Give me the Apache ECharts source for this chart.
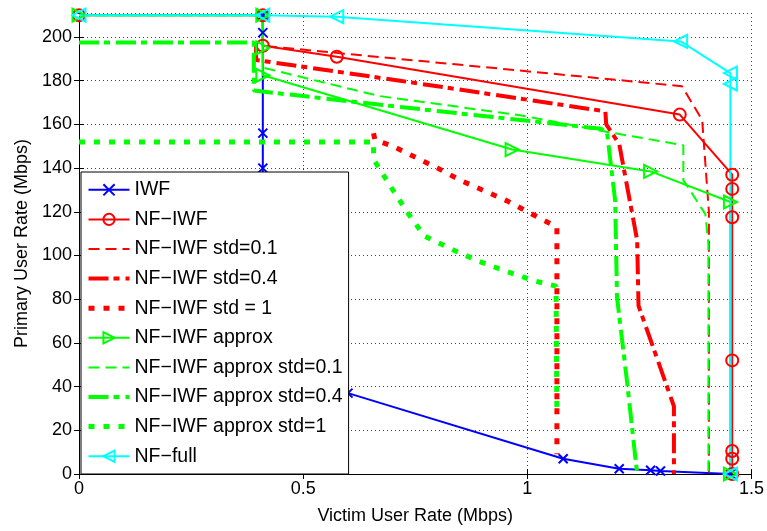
<!DOCTYPE html>
<html>
<head>
<meta charset="utf-8">
<script src="https://cdn.jsdelivr.net/npm/echarts@6/dist/echarts.min.js"></script>
<style>
  html, body { margin: 0; padding: 0; background: #fff; }
  #chartmain { width: 767px; height: 531px; }
</style>
</head>
<body>
<div id="chartmain"></div>
<script>
// data: [victim rate (Mbps), primary rate (Mbps)]
var iwf = [[0.41, 210], [0.41, 202], [0.41, 156], [0.41, 140], [0.41, 49], [0.6, 37], [1.08, 7], [1.205, 2.4], [1.275, 1.7], [1.297, 1.4], [1.453, 0]];
var nfIwf = [[0, 210], [0.41, 210], [0.41, 196], [0.575, 191], [1.34, 164.5], [1.457, 137], [1.457, 130.5], [1.457, 117.5], [1.457, 52], [1.457, 10.5], [1.457, 7], [1.457, 0]];
var nfIwf01 = [[0.41, 210], [0.41, 196], [1.345, 177.5], [1.39, 162], [1.405, 120], [1.405, 0]];
var nfIwf04 = [[0.395, 197], [0.395, 189.5], [0.716, 180], [1.174, 166], [1.176, 160], [1.205, 151], [1.245, 107], [1.248, 77], [1.327, 31], [1.327, 0]];
var nfIwf1 = [[0.657, 156], [0.66, 153], [0.7, 150], [0.8, 140], [0.85, 134.5], [0.955, 125], [1.01, 119], [1.066, 113], [1.066, 9]];
var approx = [[0, 210], [0.41, 210], [0.41, 195], [0.41, 182.5], [0.966, 148.5], [1.275, 138.5], [1.453, 124.5], [1.453, 0]];
var approx01 = [[0, 210], [0.41, 210], [0.41, 186], [0.67, 173], [0.99, 164], [1.167, 157], [1.348, 150.5], [1.348, 134.5], [1.397, 119], [1.404, 105], [1.404, 0]];
var approx04 = [[0, 197.5], [0.39, 197.5], [0.39, 175.5], [0.716, 168], [1.165, 158], [1.178, 156], [1.196, 125], [1.2, 81], [1.222, 43], [1.245, 0]];
var approx1 = [[0, 152], [0.657, 152], [0.657, 144], [0.7, 130], [0.735, 119], [0.77, 109], [0.83, 103], [0.89, 97.5], [0.95, 93], [1.014, 88.5], [1.064, 86], [1.066, 29]];
var nfFull = [[0, 210], [0.41, 210], [0.575, 209.3], [1.342, 198], [1.453, 183.5], [1.453, 178.5], [1.453, 0]];

var names = ['IWF', 'NF\u2212IWF', 'NF\u2212IWF std=0.1', 'NF\u2212IWF std=0.4', 'NF\u2212IWF std = 1',
  'NF\u2212IWF approx', 'NF\u2212IWF approx std=0.1', 'NF\u2212IWF approx std=0.4', 'NF\u2212IWF approx std=1', 'NF\u2212full'];
var xTicks = [0, 0.5, 1, 1.5];

var FONT = '"Liberation Sans", Arial, sans-serif';
var crossPath = 'path://M0,0L10,10M10,0L0,10';

function mkLine(name, data, color, width, dash, symbol) {
  var s = {
    name: name,
    type: 'line',
    data: data,
    symbol: 'none',
    animation: false,
    lineStyle: { color: color, width: width, type: dash || 'solid', cap: 'butt' },
    itemStyle: { color: color }
  };
  if (symbol) {
    s.symbol = symbol.shape;
    s.symbolSize = symbol.size;
    s.symbolRotate = symbol.rotate || 0;
    s.itemStyle = { color: 'none', borderColor: color, borderWidth: 2 };
  }
  return s;
}

var series = [
  mkLine(names[0], iwf, '#0000ff', 2, null, { shape: crossPath, size: 9 }),
  mkLine(names[1], nfIwf, '#ff0000', 2, null, { shape: 'circle', size: 12 }),
  mkLine(names[2], nfIwf01, '#ff0000', 2, [11, 6]),
  mkLine(names[3], nfIwf04, '#ff0000', 4, [20, 5, 6, 6]),
  mkLine(names[4], nfIwf1, '#ff0000', 5, [6, 9]),
  mkLine(names[5], approx, '#00ff00', 2, null, { shape: 'triangle', size: 13, rotate: -90 }),
  mkLine(names[6], approx01, '#00ff00', 2, [11, 6]),
  mkLine(names[7], approx04, '#00ff00', 4, [20, 5, 6, 6]),
  mkLine(names[8], approx1, '#00ff00', 5, [6, 9]),
  mkLine(names[9], nfFull, '#00ffff', 2, null, { shape: 'triangle', size: 13, rotate: 90 })
];

// legend entries: same line style as the series, no marker for the plain lines
var legendData = names.map(function (n, i) {
  var ls = series[i].lineStyle;
  var item = { name: n, lineStyle: { color: ls.color, width: ls.width, type: ls.type, cap: 'butt' } };
  if (series[i].symbol === 'none') {
    item.itemStyle = { color: 'rgba(0,0,0,0)', borderColor: 'rgba(0,0,0,0)', borderWidth: 0, opacity: 0 };
  }
  return item;
});

var option = {
  backgroundColor: '#fff',
  textStyle: { fontFamily: FONT },
  grid: { left: 79, right: 15, top: 13, bottom: 57 },
  legend: {
    orient: 'vertical',
    left: 81,
    top: 172,
    data: legendData,
    itemWidth: 41,
    itemHeight: 14,
    itemGap: 9.6,
    padding: [7.8, 6, 7.8, 5],
    backgroundColor: '#fff',
    borderColor: '#000',
    borderWidth: 1,
    borderRadius: 0,
    textStyle: { fontFamily: FONT, fontSize: 19.5, lineHeight: 20, color: '#000' }
  },
  xAxis: [{
    type: 'value',
    min: 0,
    max: 1.5,
    interval: 0.5,
    name: 'Victim User Rate (Mbps)',
    nameLocation: 'middle',
    nameGap: 33,
    nameTextStyle: { fontFamily: FONT, fontSize: 18, color: '#000' },
    axisLine: { lineStyle: { color: '#000', width: 1 } },
    axisTick: { inside: true, length: 5, lineStyle: { color: '#000' } },
    axisLabel: {
      fontFamily: FONT, fontSize: 18, color: '#000', margin: 6,
      formatter: function (v) { return xTicks.indexOf(v) >= 0 ? String(v) : ''; }
    },
    splitLine: { show: true, lineStyle: { color: '#444', width: 1, type: [1, 3] } }
  }, {
    type: 'value', position: 'top', min: 0, max: 1.5, interval: 0.5,
    axisLine: { show: true, lineStyle: { color: '#000', width: 1 } },
    axisTick: { show: true, inside: true, length: 5, lineStyle: { color: '#000' } },
    axisLabel: { show: false },
    splitLine: { show: false }
  }],
  yAxis: [{
    type: 'value',
    min: 0,
    max: 211,
    interval: 20,
    name: 'Primary User Rate (Mbps)',
    nameLocation: 'middle',
    nameGap: 47,
    nameTextStyle: { fontFamily: FONT, fontSize: 18, color: '#000' },
    axisLine: { show: true, lineStyle: { color: '#000', width: 1 } },
    axisTick: { show: true, inside: true, length: 5, lineStyle: { color: '#000' } },
    axisLabel: {
      fontFamily: FONT, fontSize: 18, color: '#000', margin: 7,
      formatter: function (v) { return v % 20 === 0 ? String(v) : ''; }
    },
    splitLine: { show: true, lineStyle: { color: '#444', width: 1, type: [1, 3] } }
  }, {
    type: 'value', position: 'right', min: 0, max: 211, interval: 20,
    axisLine: { show: true, lineStyle: { color: '#000', width: 1 } },
    axisTick: { show: true, inside: true, length: 5, lineStyle: { color: '#000' } },
    axisLabel: { show: false },
    splitLine: { show: false }
  }],
  series: series
};

var myChart = echarts.init(document.getElementById('chartmain'), null, { renderer: 'canvas' });
myChart.setOption(option);
</script>
</body>
</html>
